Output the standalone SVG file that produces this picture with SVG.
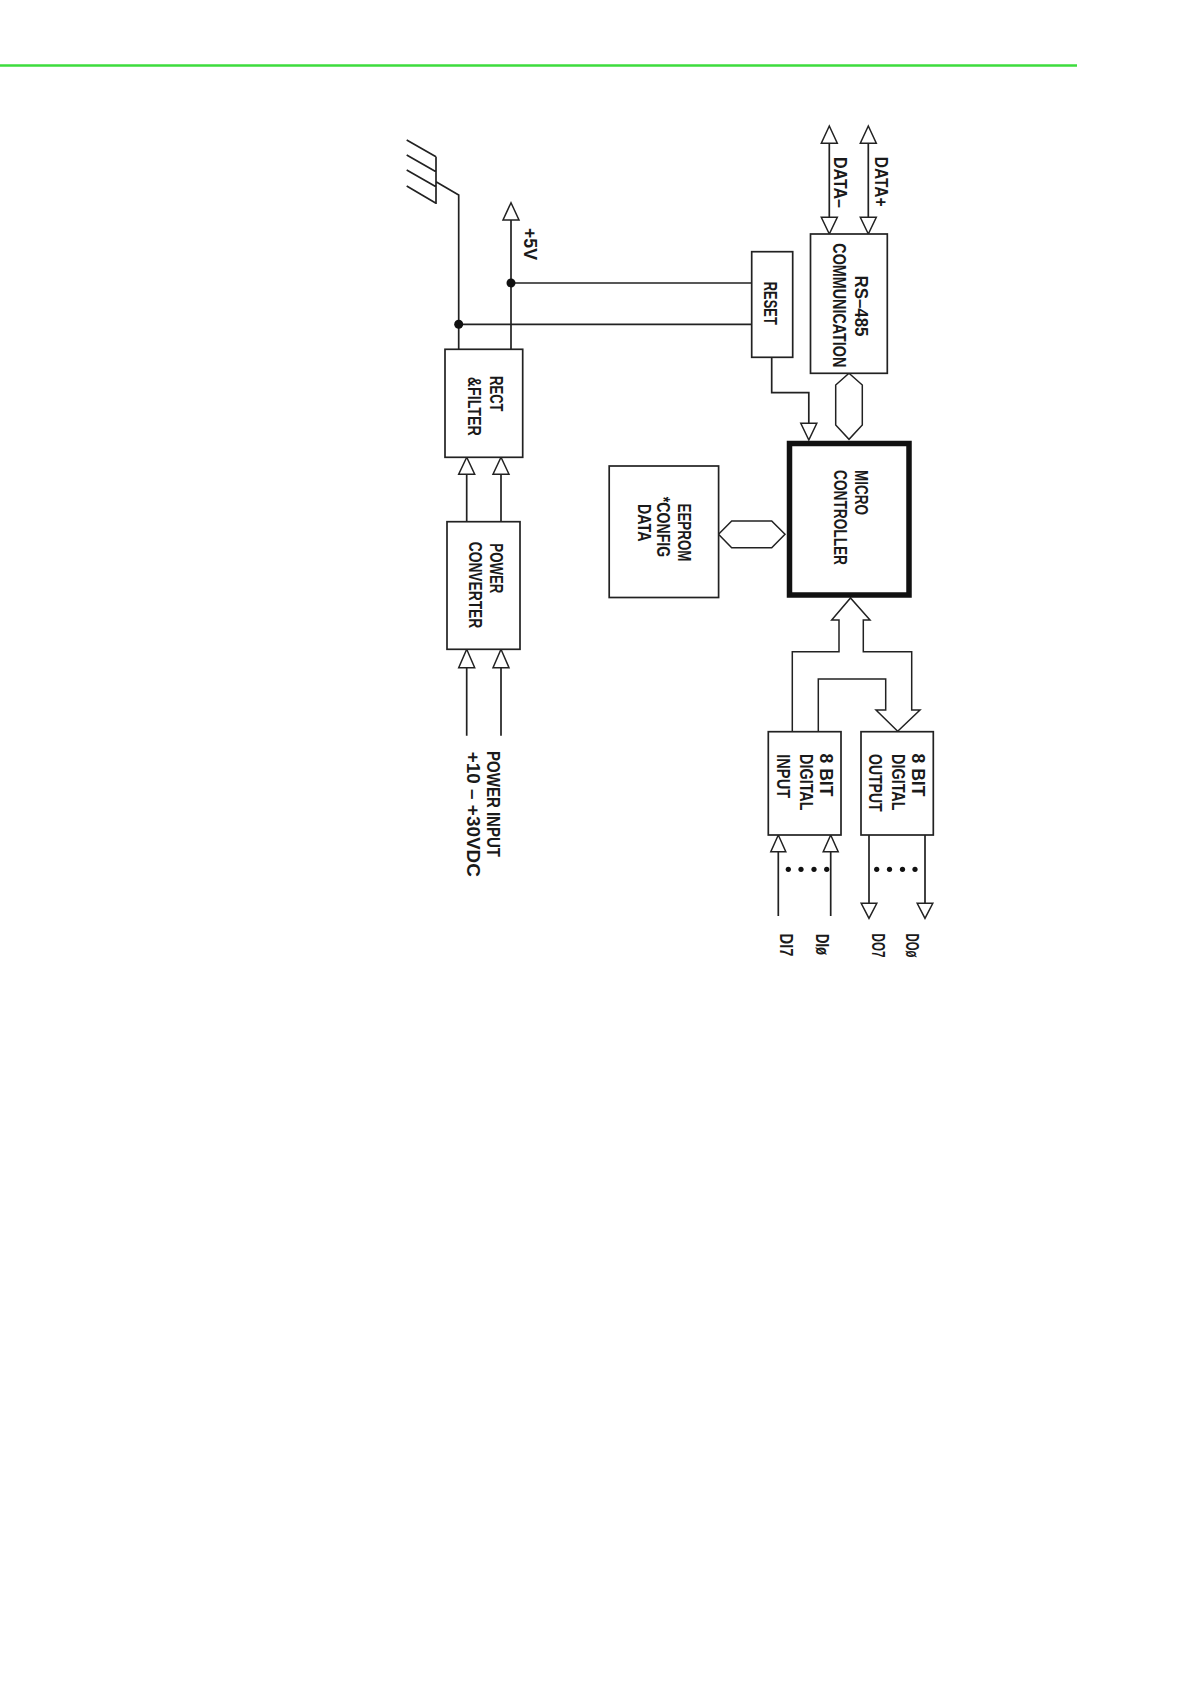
<svg xmlns="http://www.w3.org/2000/svg" width="1190" height="1684" viewBox="0 0 1190 1684">
<style>
.box{fill:#fff;stroke:#222;stroke-width:1.7}
.ln{fill:none;stroke:#222;stroke-width:1.7}
.tri{fill:#fff;stroke:#222;stroke-width:1.5;stroke-linejoin:miter}
.dot{fill:#111}
.t{font-family:"Liberation Sans",Arial,sans-serif;font-size:18px;font-weight:bold;fill:#1a1a1a;text-anchor:middle}
</style>
<rect x="0" y="0" width="1190" height="1684" fill="#fff"/>
<line x1="0" y1="65.5" x2="1077" y2="65.5" stroke="#3ddc3d" stroke-width="2.5"/>

<g id="connectors">
  <!-- ground symbol -->
  <path class="ln" d="M406.7,140 L436,156.7 M406.7,155 L436,171.7 M406.7,170 L436,186.7 M406.7,186 L436,203.3 M436,156.7 V204 M436,181.7 L458.7,195 V349.3"/>
  <!-- +5V -->
  <path class="ln" d="M511,220 V349.3"/>
  <polygon class="tri" points="511,202.7 503,220 519,220"/>
  <text class="t" transform="translate(524,244) rotate(90)" textLength="32" lengthAdjust="spacingAndGlyphs">+5V</text>
  <!-- supply lines to RESET -->
  <path class="ln" d="M511,283 H751.7 M458.7,324.3 H751.7"/>
  <circle class="dot" cx="511" cy="283" r="4.5"/>
  <circle class="dot" cx="458.7" cy="324.3" r="4.5"/>
  <!-- RECT <- POWER CONVERTER -->
  <path class="ln" d="M466.7,474.3 V521.7 M501,474.3 V521.7"/>
  <polygon class="tri" points="466.7,457.3 458.7,474.3 474.7,474.3"/>
  <polygon class="tri" points="501,457.3 493,474.3 509,474.3"/>
  <!-- POWER INPUT -->
  <path class="ln" d="M466.7,667.7 V735.7 M501,667.7 V735.7"/>
  <polygon class="tri" points="466.7,649.3 458.7,667.7 474.7,667.7"/>
  <polygon class="tri" points="501,649.3 493,667.7 509,667.7"/>
  <text class="t" transform="translate(487,804) rotate(90)" textLength="106" lengthAdjust="spacingAndGlyphs">POWER  INPUT</text>
  <text class="t" transform="translate(466.5,814.3) rotate(90)" textLength="125" lengthAdjust="spacingAndGlyphs">+10  –  +30VDC</text>
  <!-- DATA lines -->
  <path class="ln" d="M829.3,143.3 V217.3 M868.3,143.3 V217.3"/>
  <polygon class="tri" points="829.3,126 821.3,143.3 837.3,143.3"/>
  <polygon class="tri" points="829.3,234 821.3,217.3 837.3,217.3"/>
  <polygon class="tri" points="868.3,126 860.3,143.3 876.3,143.3"/>
  <polygon class="tri" points="868.3,234 860.3,217.3 876.3,217.3"/>
  <text class="t" transform="translate(834.3,182.5) rotate(90)" textLength="51" lengthAdjust="spacingAndGlyphs">DATA–</text>
  <text class="t" transform="translate(874.5,181.7) rotate(90)" textLength="50" lengthAdjust="spacingAndGlyphs">DATA+</text>
  <!-- RS-485 <-> MICRO bus -->
  <polygon class="tri" points="849,373.3 862.3,385 862.3,425 849,439.3 835.7,425 835.7,385"/>
  <!-- RESET -> MICRO -->
  <path class="ln" d="M771.7,357.3 V392.7 H808.8 V423.3"/>
  <polygon class="tri" points="808.8,440 800.8,423.3 816.8,423.3"/>
  <!-- EEPROM <-> MICRO bus -->
  <polygon class="tri" points="718.5,534.3 731.7,521 771.7,521 785,534.3 771.7,547.7 731.7,547.7"/>
  <!-- MICRO <-> DI/DO bus -->
  <path class="tri" d="M792.3,731.7 V651.7 H839 V620 H831.7 L850.5,598 L870,620 H863.3 V651.7 H911.7 V710 H920 L897.7,731.3 L876,710 H885.7 V679 H818.3 V731.7"/>
  <!-- DI inputs -->
  <path class="ln" d="M778.3,851.7 V916 M830.7,851.7 V916"/>
  <polygon class="tri" points="778.3,835 770.8,851.7 785.8,851.7"/>
  <polygon class="tri" points="830.7,835 823.2,851.7 838.2,851.7"/>
  <circle class="dot" cx="788.3" cy="869.3" r="2.6"/>
  <circle class="dot" cx="801" cy="869.3" r="2.6"/>
  <circle class="dot" cx="814" cy="869.3" r="2.6"/>
  <circle class="dot" cx="826.7" cy="869.3" r="2.6"/>
  <!-- DO outputs -->
  <path class="ln" d="M869,835 V903.3 M925,835 V903.3"/>
  <polygon class="tri" points="869,918.3 861.2,903.3 876.8,903.3"/>
  <polygon class="tri" points="925,918.3 917.2,903.3 932.8,903.3"/>
  <circle class="dot" cx="876.7" cy="869.3" r="2.6"/>
  <circle class="dot" cx="889.5" cy="869.3" r="2.6"/>
  <circle class="dot" cx="902.5" cy="869.3" r="2.6"/>
  <circle class="dot" cx="915" cy="869.3" r="2.6"/>
  <text class="t" transform="translate(779.5,945) rotate(90)" textLength="23" lengthAdjust="spacingAndGlyphs">DI7</text>
  <text class="t" transform="translate(815.5,944.5) rotate(90)" textLength="21" lengthAdjust="spacingAndGlyphs">DIø</text>
  <text class="t" transform="translate(872,945.5) rotate(90)" textLength="24" lengthAdjust="spacingAndGlyphs">DO7</text>
  <text class="t" transform="translate(905.5,945.5) rotate(90)" textLength="24" lengthAdjust="spacingAndGlyphs">DOø</text>
</g>

<g id="rect-filter">
  <rect class="box" x="445" y="349.3" width="77.7" height="108"/>
  <text class="t" transform="translate(489.5,393.8) rotate(90)" textLength="35.5" lengthAdjust="spacingAndGlyphs">RECT</text>
  <text class="t" transform="translate(468,406.3) rotate(90)" textLength="59" lengthAdjust="spacingAndGlyphs">&amp;FILTER</text>
</g>
<g id="power-converter">
  <rect class="box" x="447" y="521.7" width="73" height="127.6"/>
  <text class="t" transform="translate(489.5,568.3) rotate(90)" textLength="50" lengthAdjust="spacingAndGlyphs">POWER</text>
  <text class="t" transform="translate(468.5,585) rotate(90)" textLength="86.5" lengthAdjust="spacingAndGlyphs">CONVERTER</text>
</g>
<g id="eeprom">
  <rect class="box" x="609.2" y="466" width="109.4" height="131.5"/>
  <text class="t" transform="translate(677.5,532.5) rotate(90)" textLength="58" lengthAdjust="spacingAndGlyphs">EEPROM</text>
  <text class="t" transform="translate(657,527) rotate(90)" textLength="60.5" lengthAdjust="spacingAndGlyphs">*CONFIG</text>
  <text class="t" transform="translate(637.5,522.8) rotate(90)" textLength="37.5" lengthAdjust="spacingAndGlyphs">DATA</text>
</g>
<g id="reset">
  <rect class="box" x="751.7" y="251.7" width="41" height="105.6"/>
  <text class="t" transform="translate(763.5,303.3) rotate(90)" textLength="43" lengthAdjust="spacingAndGlyphs">RESET</text>
</g>
<g id="rs485">
  <rect class="box" x="810.5" y="234" width="76.8" height="139.3"/>
  <text class="t" transform="translate(854.5,306) rotate(90)" textLength="61" lengthAdjust="spacingAndGlyphs">RS–485</text>
  <text class="t" transform="translate(833,305.3) rotate(90)" textLength="124" lengthAdjust="spacingAndGlyphs">COMMUNICATION</text>
</g>
<g id="micro-controller">
  <rect x="789.5" y="443.5" width="119.5" height="151.5" fill="#fff" stroke="#111" stroke-width="5.5"/>
  <text class="t" transform="translate(855,492.5) rotate(90)" textLength="45" lengthAdjust="spacingAndGlyphs">MICRO</text>
  <text class="t" transform="translate(833.5,517.5) rotate(90)" textLength="95" lengthAdjust="spacingAndGlyphs">CONTROLLER</text>
</g>
<g id="digital-input">
  <rect class="box" x="768.3" y="731.7" width="72.7" height="103.3"/>
  <text class="t" transform="translate(820,775) rotate(90)" textLength="43" lengthAdjust="spacingAndGlyphs">8  BIT</text>
  <text class="t" transform="translate(799.5,782.3) rotate(90)" textLength="56.5" lengthAdjust="spacingAndGlyphs">DIGITAL</text>
  <text class="t" transform="translate(777,776.2) rotate(90)" textLength="44" lengthAdjust="spacingAndGlyphs">INPUT</text>
</g>
<g id="digital-output">
  <rect class="box" x="861" y="731.7" width="72.3" height="103.3"/>
  <text class="t" transform="translate(912,775) rotate(90)" textLength="43" lengthAdjust="spacingAndGlyphs">8  BIT</text>
  <text class="t" transform="translate(891.5,782.3) rotate(90)" textLength="56.5" lengthAdjust="spacingAndGlyphs">DIGITAL</text>
  <text class="t" transform="translate(868.8,782.8) rotate(90)" textLength="57.5" lengthAdjust="spacingAndGlyphs">OUTPUT</text>
</g>
</svg>
